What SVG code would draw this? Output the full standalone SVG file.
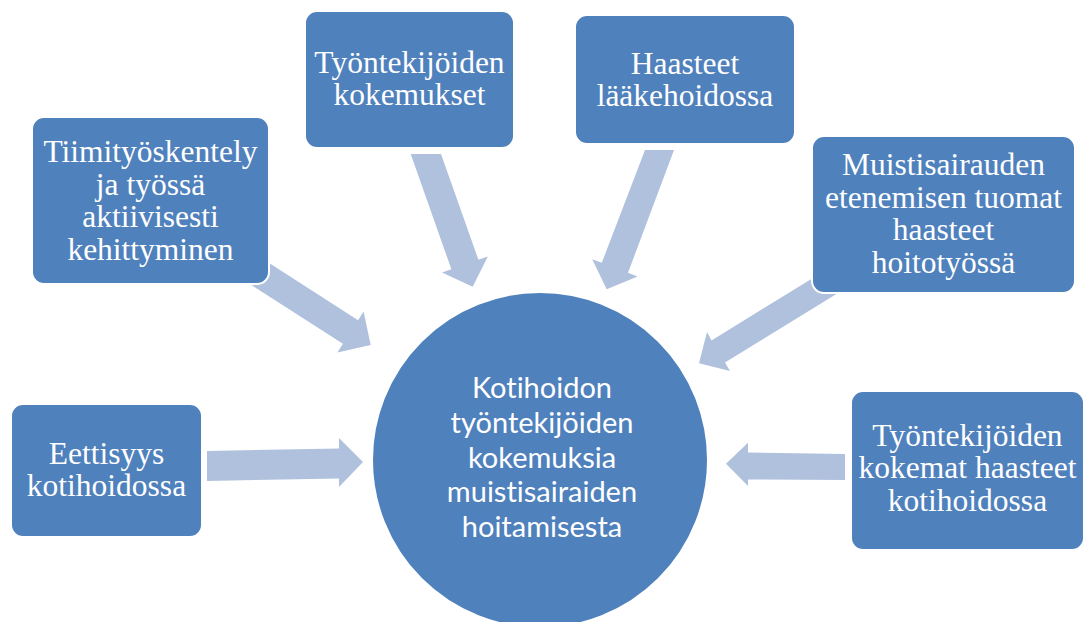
<svg xmlns="http://www.w3.org/2000/svg" width="1086" height="622" viewBox="0 0 1086 622">
  <style>
    .box { fill: #4F81BD; stroke: #FFFFFF; stroke-width: 2; }
    .hub { fill: #4F81BD; stroke: #FFFFFF; stroke-width: 2; }
    .arrow { fill: #B0C1DD; stroke: none; }
    .lbl { font-family: "Liberation Serif", "Times New Roman", serif; font-size: 31.5px; fill: #FFFFFF; text-anchor: middle; }
    .hubtxt { font-family: Lato, "Liberation Sans", sans-serif; font-size: 29px; fill: #FFFFFF; text-anchor: middle; font-variant-ligatures: none; font-feature-settings: "liga" 0, "clig" 0; }
  </style>
  <rect width="1086" height="622" fill="#FFFFFF"/>
  <g id="connectors">
    <polygon class="arrow" points="260.6,257.5 358.1,320.2 363.6,311.6 370.7,345 337.4,352.4 342.9,343.8 245.4,281.1"/>
    <polygon class="arrow" points="410.7,154 441,154 478.4,259.7 487.8,256.4 472.7,286.7 442.0,272.6 451.4,269.3"/>
    <polygon class="arrow" points="645,150 674,150 628.0,272.8 637.6,276.4 606.7,289.3 592.2,259.2 601.8,262.8"/>
    <polygon class="arrow" points="842.1,290.6 725.0,362.6 730.0,371.0 699,363.3 707.0,332.0 711.5,340.4 828.5,268.4"/>
    <polygon class="arrow" points="207,451 339,448.5 339,438 363,462 339,487 339,478.5 207,481"/>
    <polygon class="arrow" points="845,454 748,452.5 748,442.7 726,463.8 748,486 748,479.5 845,480"/>
  </g>
  <g id="node-hub">
    <circle class="hub" cx="540" cy="460" r="168"/>
    <text class="hubtxt" x="542" y="398">Kotihoidon</text>
    <text class="hubtxt" x="542" y="432.75">työntekijöiden</text>
    <text class="hubtxt" x="542" y="467.5">kokemuksia</text>
    <text class="hubtxt" x="542" y="502.25">muistisairaiden</text>
    <text class="hubtxt" x="542" y="537">hoitamisesta</text>
  </g>
  <g id="node-tiimityo">
    <rect class="box" x="32" y="117" width="237" height="167" rx="12" ry="12"/>
    <text class="lbl" x="150.5" y="162">Tiimityöskentely</text>
    <text class="lbl" x="150.5" y="194.5">ja työssä</text>
    <text class="lbl" x="150.5" y="227">aktiivisesti</text>
    <text class="lbl" x="150.5" y="259.5">kehittyminen</text>
  </g>
  <g id="node-kokemukset">
    <rect class="box" x="305" y="11" width="209" height="137" rx="12" ry="12"/>
    <text class="lbl" x="409.5" y="72.5">Työntekijöiden</text>
    <text class="lbl" x="409.5" y="104.5">kokemukset</text>
  </g>
  <g id="node-laakehoito">
    <rect class="box" x="575" y="15" width="220" height="129" rx="12" ry="12"/>
    <text class="lbl" x="685" y="73.5">Haasteet</text>
    <text class="lbl" x="685" y="105.5">lääkehoidossa</text>
  </g>
  <g id="node-muistisairaus">
    <rect class="box" x="812" y="136" width="263" height="157" rx="12" ry="12"/>
    <text class="lbl" x="943.5" y="175">Muistisairauden</text>
    <text class="lbl" x="943.5" y="207.5">etenemisen tuomat</text>
    <text class="lbl" x="943.5" y="240">haasteet</text>
    <text class="lbl" x="943.5" y="272.5">hoitotyössä</text>
  </g>
  <g id="node-eettisyys">
    <rect class="box" x="11" y="404" width="191" height="133" rx="12" ry="12"/>
    <text class="lbl" x="106.5" y="464">Eettisyys</text>
    <text class="lbl" x="106.5" y="496">kotihoidossa</text>
  </g>
  <g id="node-haasteet-kotihoito">
    <rect class="box" x="851" y="391" width="233" height="159" rx="12" ry="12"/>
    <text class="lbl" x="967.5" y="445.5">Työntekijöiden</text>
    <text class="lbl" x="967.5" y="478">kokemat haasteet</text>
    <text class="lbl" x="967.5" y="511">kotihoidossa</text>
  </g>
</svg>
